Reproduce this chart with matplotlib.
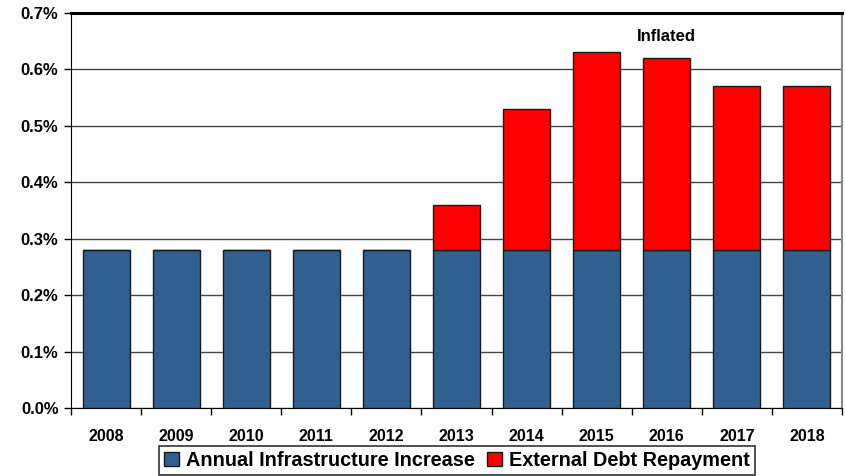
import matplotlib
matplotlib.use("Agg")
import matplotlib.pyplot as plt
from matplotlib.ticker import FuncFormatter, FixedLocator

years = ["2008", "2009", "2010", "2011", "2012", "2013", "2014", "2015", "2016", "2017", "2018"]
infrastructure = [0.28, 0.28, 0.28, 0.28, 0.28, 0.28, 0.28, 0.28, 0.28, 0.28, 0.28]
debt_repayment = [0.0, 0.0, 0.0, 0.0, 0.0, 0.08, 0.25, 0.35, 0.34, 0.29, 0.29]
yticks = [0.0, 0.1, 0.2, 0.3, 0.4, 0.5, 0.6, 0.7]

plt.rcParams["font.family"] = ["Liberation Sans", "DejaVu Sans"]

fig = plt.figure(figsize=(8.46, 4.76), dpi=100)
ax = fig.add_axes([71 / 846, 1 - 408 / 476, (842 - 71) / 846, (408 - 13) / 476])

x = list(range(len(years)))
blue = "#30608F"
red = "#FF0000"
w = 0.67
ax.bar(x, infrastructure, width=w, color=blue, edgecolor="#1a1a1a", linewidth=1.0,
       label="Annual Infrastructure Increase", zorder=3)
ax.bar(x, debt_repayment, width=w, bottom=infrastructure, color=red, edgecolor="#1a1a1a",
       linewidth=1.0, label="External Debt Repayment", zorder=3)

ax.set_xlim(-0.5, len(years) - 0.5)
ax.set_ylim(0, 0.7)
ax.yaxis.set_major_locator(FixedLocator(yticks))
ax.yaxis.set_major_formatter(FuncFormatter(lambda v, p: f"{v:.1f}%"))
ax.grid(axis="y", color="#444444", linewidth=1.0, zorder=0)

ax.set_xticks(x)
ax.set_xticklabels(years, fontsize=11.5, fontweight="bold")
ax.set_xticks([i + 0.5 for i in range(-1, len(years))], minor=True)
ax.tick_params(axis="x", which="major", length=0, pad=15)
ax.tick_params(axis="x", which="minor", length=5, width=1, direction="out", color="black")
for lab in ax.get_yticklabels():
    lab.set_fontsize(12)
    lab.set_fontweight("bold")
ax.tick_params(axis="y", length=5, width=1, direction="out", pad=4)

ax.spines["top"].set_linewidth(2.2)
ax.spines["top"].set_color("black")
ax.spines["right"].set_color("#888888")
ax.spines["right"].set_linewidth(1.5)
ax.spines["left"].set_color("black")
ax.spines["bottom"].set_color("black")

ax.text(8, 0.645, "Inflated", ha="center", va="bottom", fontsize=12, fontweight="bold")

leg = fig.legend(loc="upper center", bbox_to_anchor=(457 / 846, 1 - 446 / 476), ncol=2,
                 prop={"weight": "bold", "size": 14.3}, frameon=True, fancybox=False,
                 handlelength=0.75, handleheight=0.75, handletextpad=0.35, columnspacing=0.6,
                 borderpad=0.25, borderaxespad=0, edgecolor="black")
leg.get_frame().set_linewidth(1.2)

fig.savefig("out.png", dpi=100)
